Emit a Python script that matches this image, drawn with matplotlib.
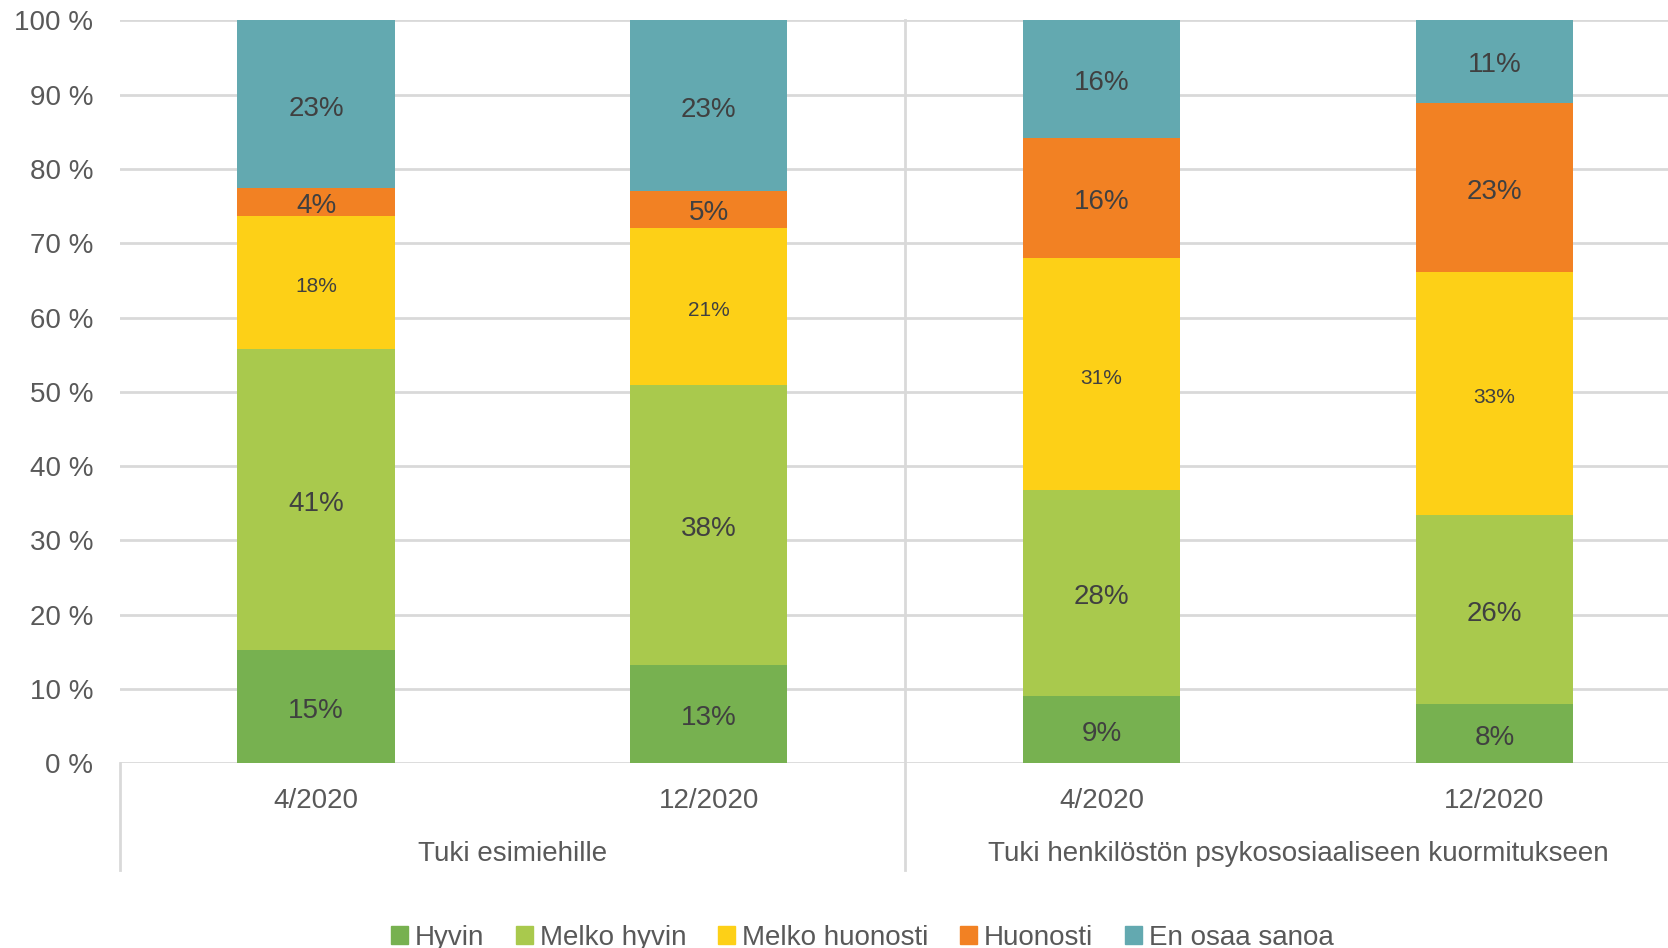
import matplotlib
matplotlib.use("Agg")
import matplotlib.pyplot as plt
import matplotlib.transforms as mtransforms
from matplotlib.patches import Patch

plt.rcParams['font.family'] = ['Liberation Sans Narrow', 'Liberation Sans', 'DejaVu Sans']

# survey answers, share of respondents (%)
periods = ['4/2020', '12/2020', '4/2020', '12/2020']
groups = ['Tuki esimiehille', 'Tuki henkilöstön psykososiaaliseen kuormitukseen']
answers = ['Hyvin', 'Melko hyvin', 'Melko huonosti', 'Huonosti', 'En osaa sanoa']
hyvin = [15.2, 13.2, 9.0, 7.9]
melko_hyvin = [40.6, 37.7, 27.8, 25.5]
melko_huonosti = [17.9, 21.2, 31.2, 32.7]
huonosti = [3.7, 5.0, 16.2, 22.8]
en_osaa = [22.6, 22.9, 15.8, 11.2]

series = [hyvin, melko_hyvin, melko_huonosti, huonosti, en_osaa]
colors = ['#77B150', '#A9C94D', '#FDD017', '#F28123', '#63A9B0']
grid_col = '#D9D9D9'
text_col = '#404040'

fig = plt.figure(figsize=(16.68, 9.48), dpi=100)
ax = fig.add_axes([0.0717, 0.1951, 0.942, 0.7833])

# nudge value labels slightly below the segment centre
lbl_shift = ax.transData + mtransforms.ScaledTranslation(0, -3 / 72, fig.dpi_scale_trans)

x = list(range(len(periods)))
bottom = [0.0] * len(periods)
for name, vals, col in zip(answers, series, colors):
    ax.bar(x, vals, width=0.4, bottom=bottom, color=col, label=name, zorder=3)
    for xi, b, v in zip(x, bottom, vals):
        size = 15 if name == 'Melko huonosti' else 20
        ax.text(xi, b + v / 2, f'{v:.0f}%', ha='center', va='center',
                fontsize=size, color=text_col, zorder=4, transform=lbl_shift)
    bottom = [b + v for b, v in zip(bottom, vals)]

ax.set_xlim(-0.5, 3.5)
ax.set_ylim(0, 100)
ax.set_yticks(range(0, 101, 10))
ax.set_yticklabels([f'{t} %' for t in range(0, 101, 10)])
ax.tick_params(axis='y', length=0, pad=19, labelsize=20, labelcolor='#595959')
ax.set_xticks([])
ax.yaxis.grid(True, color=grid_col, linewidth=2, zorder=0)
for s in ax.spines.values():
    s.set_visible(False)

# two-level category axis below the bars
trans = mtransforms.blended_transform_factory(ax.transData, ax.transAxes)
for xi, p in zip(x, periods):
    ax.text(xi, -0.051, p, transform=trans, ha='center', va='center',
            fontsize=20, color='#595959')
for gi, g in enumerate(groups):
    ax.text(gi * 2 + 0.5, -0.1225, g, transform=trans, ha='center', va='center',
            fontsize=20, color='#595959')
ax.plot([-0.5, -0.5], [0, -0.144], transform=trans, color=grid_col, lw=2, clip_on=False)
ax.plot([1.5, 1.5], [1, -0.144], transform=trans, color=grid_col, lw=2, clip_on=False, zorder=1)

handles = [Patch(color=c, label=a) for a, c in zip(answers, colors)]
fig.legend(handles=handles, loc='center', bbox_to_anchor=(0.517, 0.011), ncol=5,
           frameon=False, fontsize=20, labelcolor='#595959', handlelength=0.6,
           handleheight=0.6, handletextpad=0.25, columnspacing=1.15)

fig.savefig('out.png', dpi=100)
